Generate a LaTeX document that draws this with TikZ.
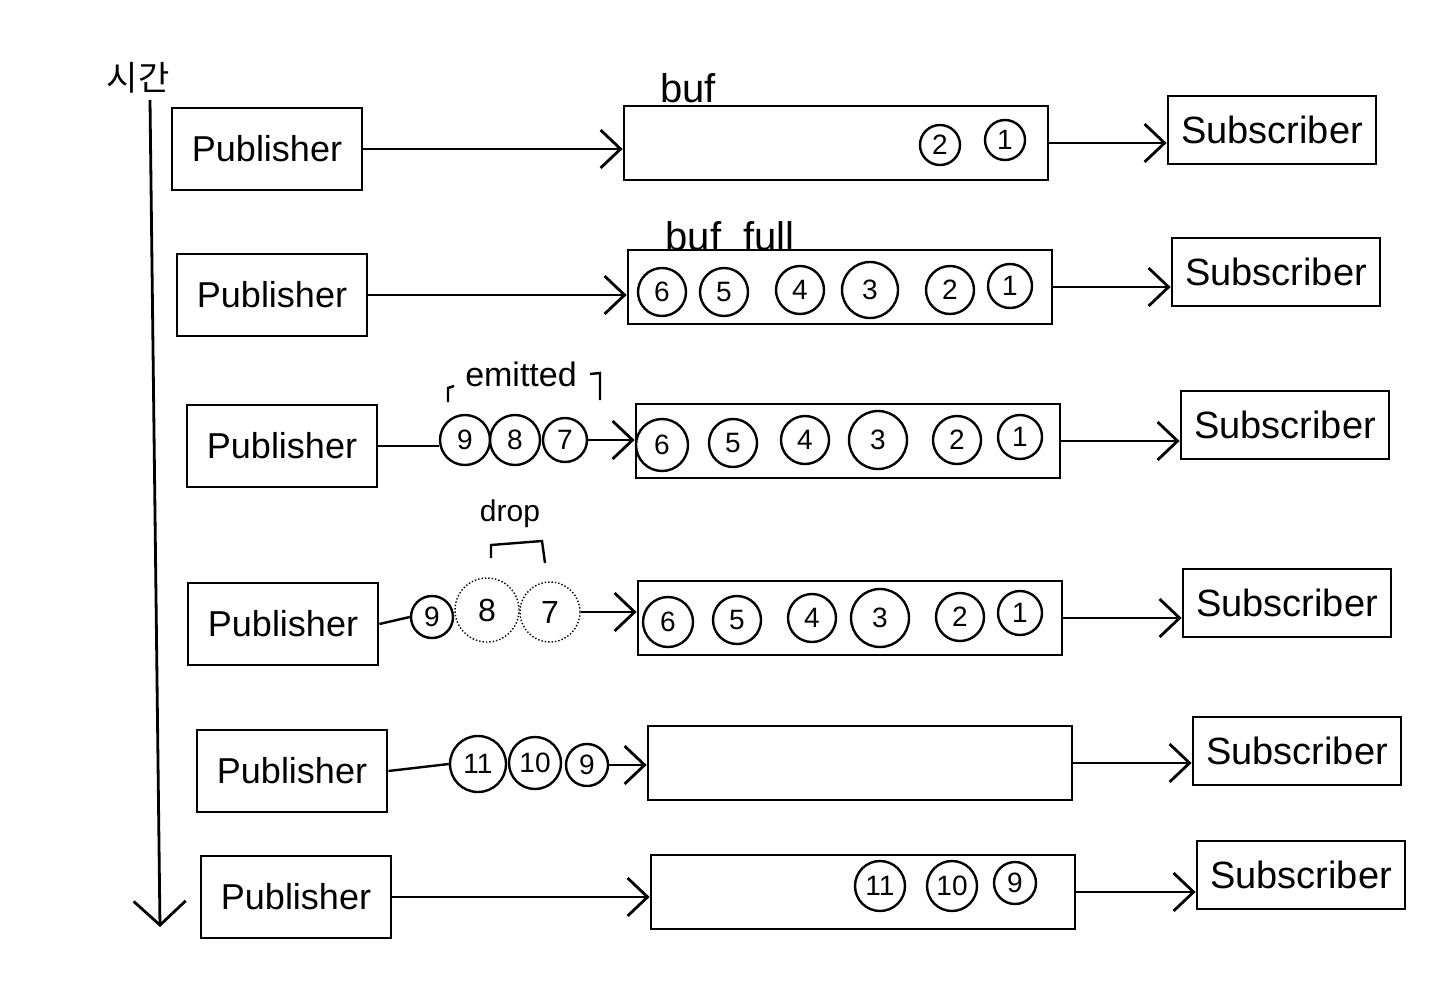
\documentclass[tikz,border=0pt]{standalone}
\usepackage{fontspec}
\setmainfont{Liberation Sans}
\newfontfamily\korfont{Noto Sans CJK KR}
\usetikzlibrary{arrows.meta}

\tikzset{
    box/.style={draw=black, line width=1.4pt, minimum width=95pt, minimum height=41pt, font=\fontsize{18}{21}\selectfont},
    bufbox/.style={draw=black, line width=1.4pt, minimum width=212pt, minimum height=37pt},
    subbox/.style={draw=black, line width=1.4pt, minimum width=104pt, minimum height=34pt, font=\fontsize{19}{22}\selectfont},
    ball/.style={circle, draw=black, line width=1.2pt, inner sep=0pt, minimum size=#1, font=\fontsize{14}{16}\selectfont},
    ball/.default=20pt,
    ghost/.style={circle, draw=black, densely dotted, line width=0.7pt, inner sep=0pt, minimum size=#1, font=\fontsize{16}{18}\selectfont},
    flow/.style={-{Straight Barb[length=10pt, width=19pt, line width=1.4pt]}, line width=1.2pt},
    plain/.style={line width=1.2pt},
    note/.style={font=\fontsize{20}{23}\selectfont}
}

\begin{document}
\begin{tikzpicture}[x=0.5pt, y=-0.5pt]
    \useasboundingbox (0,0) rectangle (1440,1001);

    % time axis
    \node[font=\korfont\fontsize{17}{20}\selectfont] (time) at (138,78) {시간};
    \coordinate (tstart) at (150,100);
    \coordinate (tend) at (160,927);
    \draw[line width=1.4pt, -{Straight Barb[length=12pt, width=26pt, line width=1.4pt]}] (tstart) -- (tend);

    % row 1
    \node[box] (pub1) at (267,149) {Publisher};
    \node[bufbox] (buf1) at (836,143) {};
    \node[subbox] (sub1) at (1272,130) {Subscriber};
    \node[note] (lbl1) at (688,88) {buf};
    \node[ball] (a2) at (940,145) {2};
    \node[ball] (a1) at (1005,140) {1};
    \draw[flow] (pub1.east) -- (pub1.east -| buf1.west);
    \draw[flow] (buf1.east) -- (buf1.east -| sub1.west);

    % row 2
    \node[box] (pub2) at (272,295) {Publisher};
    \node[bufbox] (buf2) at (840,287) {};
    \node[subbox] (sub2) at (1276,272) {Subscriber};
    \node[note] (lbl2) at (730,236) {buf\ \ full};
    \node[ball=24pt] (b6) at (662,292) {6};
    \node[ball=24pt] (b5) at (724,292) {5};
    \node[ball=24pt] (b4) at (800,290) {4};
    \node[ball=28pt] (b3) at (870,290) {3};
    \node[ball=24pt] (b2) at (950,290) {2};
    \node[ball=22pt] (b1) at (1010,286) {1};
    \draw[flow] (pub2.east) -- (pub2.east -| buf2.west);
    \draw[flow] (buf2.east) -- (buf2.east -| sub2.west);

    % row 3
    \node[box] (pub3) at (282,446) {Publisher};
    \node[bufbox] (buf3) at (848,441) {};
    \node[subbox] (sub3) at (1285,425) {Subscriber};
    \node[ball=26pt] (c6) at (662,445) {6};
    \node[ball=24pt] (c5) at (733,443) {5};
    \node[ball=24pt] (c4) at (805,440) {4};
    \node[ball=29pt] (c3) at (878,440) {3};
    \node[ball=24pt] (c2) at (957,440) {2};
    \node[ball=22pt] (c1) at (1020,437) {1};
    \node[ball=25pt] (e9) at (465,440) {9};
    \node[ball=25pt] (e8) at (515,440) {8};
    \node[ball=22pt] (e7) at (565,440) {7};
    \node[font=\fontsize{17}{20}\selectfont] (emit) at (521,374) {emitted};
    \draw[plain] (448,402) -- (448,388) -- (454,386);
    \draw[plain] (590,374) -- (600,373) -- (600,400);
    \draw[plain] (pub3.east) -- (pub3.east -| e9.west);
    \draw[flow] (e7.east) -- (e7.east -| buf3.west);
    \draw[flow] (buf3.east) -- (buf3.east -| sub3.west);

    % row 4
    \node[box] (pub4) at (283,624) {Publisher};
    \node[bufbox] (buf4) at (850,618) {};
    \node[subbox] (sub4) at (1287,603) {Subscriber};
    \node[ball=25pt] (d6) at (668,622) {6};
    \node[ball=24pt] (d5) at (737,620) {5};
    \node[ball=24pt] (d4) at (812,618) {4};
    \node[ball=29pt] (d3) at (880,618) {3};
    \node[ball=24pt] (d2) at (960,617) {2};
    \node[ball=22pt] (d1) at (1020,613) {1};
    \node[ball=21pt] (g9) at (432,617) {9};
    \node[ghost=32pt] (g8) at (487,610) {8};
    \node[ghost=30pt] (g7) at (550,612) {7};
    \node[font=\fontsize{15}{17}\selectfont] (drop) at (510,514) {drop};
    \draw[plain] (491,558) -- (491,545) -- (542,541) -- (545,563);
    \draw[plain] (pub4.east) -- (g9.west);
    \draw[flow] (g7.east) -- (g7.east -| buf4.west);
    \draw[flow] (buf4.east) -- (buf4.east -| sub4.west);

    % row 5
    \node[box] (pub5) at (292,771) {Publisher};
    \node[bufbox] (buf5) at (860,763) {};
    \node[subbox] (sub5) at (1297,751) {Subscriber};
    \node[ball=28pt] (f11) at (478,764) {11};
    \node[ball=26pt] (f10) at (535,763) {10};
    \node[ball=21pt] (f9) at (587,765) {9};
    \draw[plain] (pub5.east) -- (f11.west);
    \draw[flow] (f9.east) -- (f9.east -| buf5.west);
    \draw[flow] (buf5.east) -- (buf5.east -| sub5.west);

    % row 6
    \node[box] (pub6) at (296,897) {Publisher};
    \node[bufbox] (buf6) at (863,892) {};
    \node[subbox] (sub6) at (1301,875) {Subscriber};
    \node[ball=25pt] (h11) at (880,886) {11};
    \node[ball=25pt] (h10) at (952,886) {10};
    \node[ball=21pt] (h9) at (1015,883) {9};
    \draw[flow] (pub6.east) -- (pub6.east -| buf6.west);
    \draw[flow] (buf6.east) -- (buf6.east -| sub6.west);
\end{tikzpicture}
\end{document}
